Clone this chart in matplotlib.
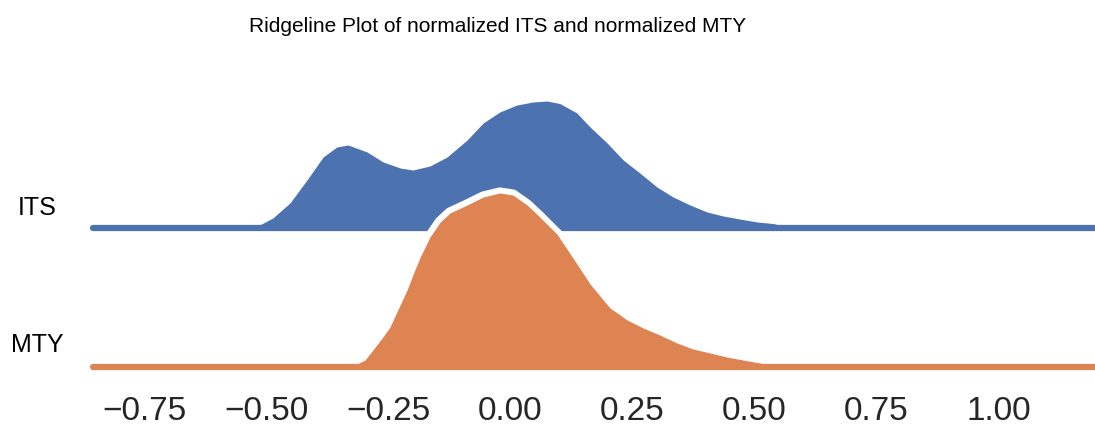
import matplotlib
matplotlib.use("Agg")
import matplotlib.pyplot as plt

plt.rcParams['font.family'] = ['Liberation Sans', 'DejaVu Sans']

# ---- data (density estimates) ----
categories = ["ITS", "MTY"]
colors = ["#4C72B0", "#DD8452"]

its_x = [-0.524, -0.487, -0.452, -0.417, -0.384, -0.356, -0.333, -0.294, -0.261,
         -0.226, -0.200, -0.165, -0.130, -0.089, -0.056, -0.022, 0.013, 0.046,
         0.075, 0.101, 0.136, 0.163, 0.198, 0.231, 0.265, 0.300, 0.333, 0.368,
         0.403, 0.436, 0.470, 0.505, 0.538, 0.573]
its_density = [0.000, 0.136, 0.350, 0.679, 1.007, 1.150, 1.179, 1.079, 0.936,
               0.850, 0.821, 0.879, 1.007, 1.250, 1.493, 1.650, 1.750, 1.793,
               1.807, 1.771, 1.636, 1.436, 1.207, 0.964, 0.779, 0.579, 0.436,
               0.321, 0.221, 0.164, 0.121, 0.079, 0.057, 0.000]

mty_x = [-0.325, -0.298, -0.282, -0.263, -0.247, -0.231, -0.212, -0.196, -0.185,
         -0.165, -0.144, -0.124, -0.089, -0.056, -0.022, 0.005, 0.034, 0.060,
         0.095, 0.128, 0.163, 0.190, 0.204, 0.239, 0.272, 0.306, 0.341, 0.374,
         0.409, 0.443, 0.476, 0.511, 0.542]
mty_density = [0.000, 0.093, 0.236, 0.407, 0.564, 0.807, 1.093, 1.379, 1.564,
               1.850, 2.064, 2.193, 2.307, 2.421, 2.479, 2.450, 2.307, 2.136,
               1.893, 1.550, 1.179, 0.950, 0.836, 0.664, 0.550, 0.450, 0.336,
               0.250, 0.193, 0.136, 0.093, 0.050, 0.000]

xticks = [-0.75, -0.50, -0.25, 0.00, 0.25, 0.50, 0.75, 1.00]
xtick_labels = ["\u22120.75", "\u22120.50", "\u22120.25", "0.00", "0.25", "0.50", "0.75", "1.00"]
title = "Ridgeline Plot of normalized ITS and normalized MTY"

# ---- layout ----
W, H = 1095, 428
fig = plt.figure(figsize=(W / 100, H / 100), dpi=100)
fig.patch.set_facecolor("white")

PX_PER_UNIT = 70.0
XLIM = (-0.8555, 1.1977)
left_px = 93
rows = [
    dict(base=227.5, height=140, x=its_x, y=its_density, label_base=215),
    dict(base=366.5, height=180, x=mty_x, y=mty_density, label_base=352),
]

axes = []
for i, (cat, col, r) in enumerate(zip(categories, colors, rows)):
    ax = fig.add_axes([left_px / W, (H - r["base"]) / H, (W - left_px) / W, r["height"] / H])
    ax.set_facecolor("none")
    ax.set_xlim(*XLIM)
    ax.set_ylim(0, r["height"] / PX_PER_UNIT)
    # white outline under fill
    ax.plot(r["x"], r["y"], color="white", lw=8, solid_joinstyle="round",
            solid_capstyle="round", clip_on=False, zorder=1)
    ax.fill_between(r["x"], 0, r["y"], color=col, lw=0, clip_on=False, zorder=2)
    ax.axhline(0, color=col, lw=4.5, solid_capstyle="round", clip_on=False, zorder=3)
    for s in ax.spines.values():
        s.set_visible(False)
    ax.set_yticks([])
    fig.text(37 / W, 1 - r["label_base"] / H, cat, ha="center", va="baseline",
             fontsize=18, color="black")
    axes.append(ax)

axes[0].set_xticks([])
axes[1].set_xticks(xticks)
axes[1].set_xticklabels(xtick_labels, fontsize=24, color="#262626")
axes[1].tick_params(axis="x", length=0, pad=21)

fig.text(498 / W, 1 - 31.5 / H, title, ha="center", va="baseline", fontsize=15,
         color="black")

fig.savefig("out.png", dpi=100)
